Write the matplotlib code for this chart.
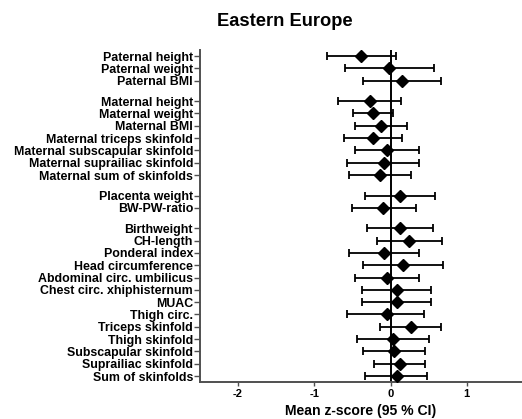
import numpy as np
import matplotlib
matplotlib.use("Agg")
import matplotlib.pyplot as plt


# =========================
# DATA
# =========================

GROUPS = [
    ["Paternal height", "Paternal weight", "Paternal BMI"],
    ["Maternal height", "Maternal weight", "Maternal BMI",
     "Maternal triceps skinfold", "Maternal subscapular skinfold",
     "Maternal suprailiac skinfold", "Maternal sum of skinfolds"],
    ["Placenta weight", "BW-PW-ratio"],
    ["Birthweight", "CH-length", "Ponderal index", "Head circumference",
     "Abdominal circ. umbilicus", "Chest circ. xhiphisternum", "MUAC",
     "Thigh circ.", "Triceps skinfold", "Thigh skinfold",
     "Subscapular skinfold", "Suprailiac skinfold", "Sum of skinfolds"],
]

MEAN = [-0.39, -0.02, 0.15,
        -0.27, -0.23, -0.13, -0.23, -0.05, -0.09, -0.14,
        0.12, -0.10,
        0.13, 0.24, -0.09, 0.17, -0.04, 0.08, 0.08, -0.04, 0.27, 0.03,
        0.04, 0.13, 0.08]

CI_LOW = [-0.84, -0.60, -0.36,
          -0.69, -0.49, -0.46, -0.61, -0.47, -0.57, -0.55,
          -0.34, -0.51,
          -0.31, -0.18, -0.55, -0.36, -0.47, -0.38, -0.37, -0.57, -0.14,
          -0.44, -0.36, -0.22, -0.33]

CI_HIGH = [0.07, 0.57, 0.66,
           0.14, 0.03, 0.21, 0.15, 0.37, 0.38, 0.27,
           0.58, 0.33,
           0.56, 0.67, 0.37, 0.69, 0.38, 0.53, 0.53, 0.44, 0.66, 0.50,
           0.45, 0.45, 0.48]

X_TICKS = [-2, -1, 0, 1]

TITLE = "Eastern Europe"
XLABEL = "Mean z-score (95 % CI)"

GROUP_GAP = 2 / 3  # extra space between groups, in rows

plt.rcParams["font.family"] = ["Liberation Sans", "DejaVu Sans"]
plt.rcParams["font.weight"] = "bold"


# =========================
# LAYOUT
# =========================

labels = []
ypos = []
y = 0.0
for g, items in enumerate(GROUPS):
    if g > 0:
        y += GROUP_GAP
    for name in items:
        labels.append(name)
        ypos.append(y)
        y += 1
ypos = np.array(ypos)

mean = np.array(MEAN)
err = np.vstack([mean - np.array(CI_LOW), np.array(CI_HIGH) - mean])


# =========================
# PLOT
# =========================

fig = plt.figure(figsize=(5.22, 4.19), dpi=100)
ax = fig.add_axes([200 / 522, 1 - 381.7 / 419, 322 / 522, (381.7 - 50) / 419])

ax.axvline(0, color="black", linewidth=1.4, zorder=1)

ax.errorbar(
    mean, ypos, xerr=err,
    fmt="D", color="black", markersize=6.3,
    ecolor="black", elinewidth=1.3, capsize=3, capthick=1.3,
    zorder=3
)

ax.set_xlim(-2.5, 1.725)
ax.set_ylim(ypos[-1] + 0.46, ypos[0] - 0.49)

ax.set_yticks(ypos)
ax.set_yticklabels(labels, fontsize=8.9, fontweight="bold")
ax.set_xticks(X_TICKS)
ax.set_xticklabels([str(t) for t in X_TICKS], fontsize=8, fontweight="bold")

for side in ["top", "right"]:
    ax.spines[side].set_visible(False)
for side in ["left", "bottom"]:
    ax.spines[side].set_color("#505050")
    ax.spines[side].set_linewidth(1.4)

ax.tick_params(axis="y", length=4, width=1, color="#505050", pad=1)
ax.tick_params(axis="x", length=3, width=1, color="#505050", pad=2)

ax.set_xlabel(XLABEL, fontsize=10.1, fontweight="bold", labelpad=4)

fig.text(285 / 522, 1 - 22 / 419, TITLE, fontsize=13.2, fontweight="bold",
         ha="center", va="center")

fig.savefig("out.png", dpi=100)
